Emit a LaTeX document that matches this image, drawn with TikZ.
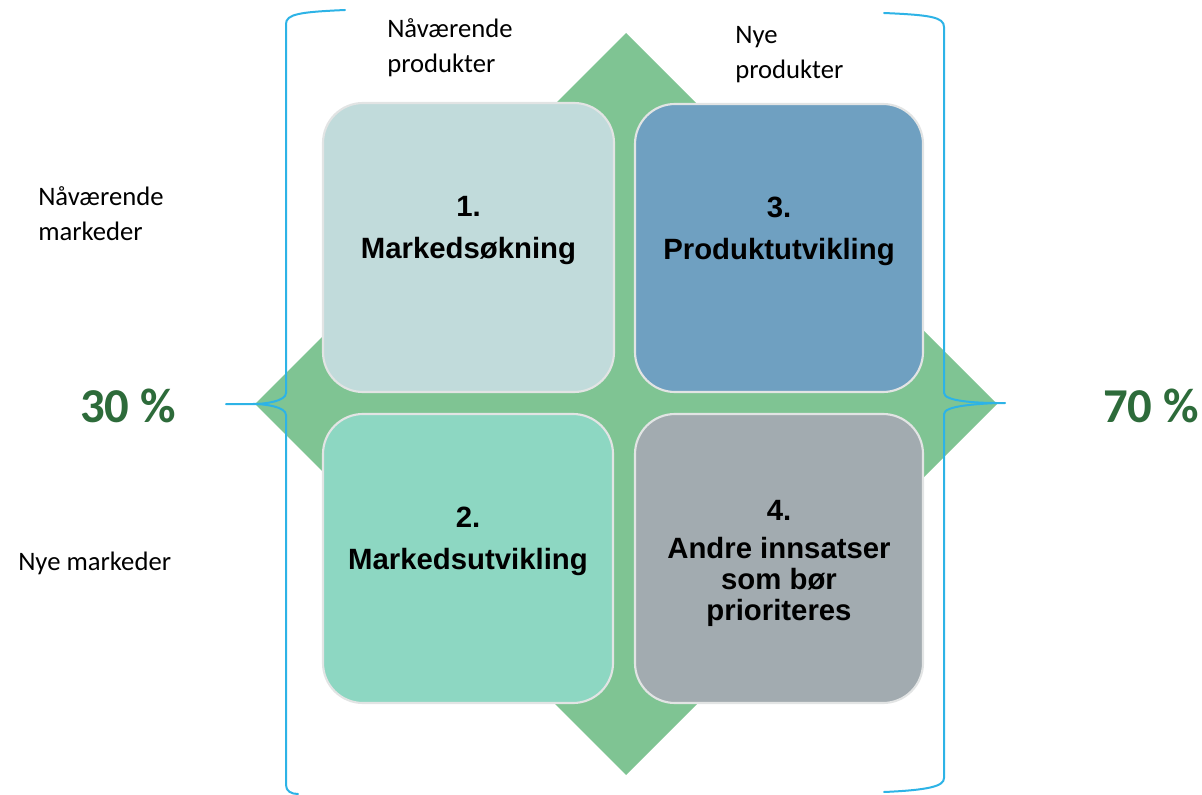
\documentclass[tikz,border=0pt]{standalone}
\usepackage{fontspec}
\setmainfont{Carlito}
\newfontfamily\boxfont{Liberation Sans}
\definecolor{diamondgreen}{HTML}{7FC493}
\definecolor{boxA}{HTML}{C1DBDB}
\definecolor{boxB}{HTML}{8DD7C2}
\definecolor{boxC}{HTML}{6FA0C1}
\definecolor{boxD}{HTML}{A2ABB0}
\definecolor{braceblue}{HTML}{2DB3E6}
\definecolor{pctgreen}{HTML}{2D6B3A}
\definecolor{edgegrey}{HTML}{E2E4E4}
\tikzset{
  quadbox/.style={draw=edgegrey, line width=1.6pt, rounded corners=30pt},
  quadtext/.style={font=\boxfont\bfseries\fontsize{22}{31.5}\selectfont, align=center, text=black, inner sep=0pt},
  sidelabel/.style={font=\fontsize{20}{26.5}\selectfont, align=left, anchor=north west, inner sep=0pt, text=black},
  pct/.style={font=\bfseries\fontsize{36.5}{40}\selectfont, text=pctgreen, inner sep=0pt},
  bracestyle/.style={draw=braceblue, line width=1.5pt}
}
\begin{document}
\begin{tikzpicture}[x=0.75pt,y=-0.75pt]
\useasboundingbox (0,0) rectangle (1202,795);
% diamond
\fill[diamondgreen] (626,33) -- (997,404) -- (626,775) -- (255,404) -- cycle;
% boxes
\draw[quadbox, fill=boxA] (323,103) rectangle (614,392);
\draw[quadbox, fill=boxC] (635,104) rectangle (923,392);
\draw[quadbox, fill=boxB] (323,414) rectangle (613,703);
\draw[quadbox, fill=boxD] (635,414) rectangle (923,703);
% box texts
\node[quadtext] (t1) at (468.5,231) {1.\\Markedsøkning};
\node[quadtext] (t3) at (779,231) {3.\\Produktutvikling};
\node[quadtext] (t2) at (468,541.5) {2.\\Markedsutvikling};
\node[quadtext, font=\boxfont\bfseries\fontsize{22}{23}\selectfont] (t4) at (779,563.5) {4.\\[5.5pt]Andre innsatser\\som bør\\prioriteres};
% braces
\draw[bracestyle, line cap=round] (345,10) .. controls (300,12) and (286,14) .. (286,24) -- (286,393)
  .. controls (286,401) and (266,404) .. (253,404) -- (226,404);
\draw[bracestyle, line cap=round] (253,404) .. controls (266,404) and (286,407) .. (286,415) -- (286,785)
  .. controls (286,791) and (291,794) .. (298,794);
\draw[bracestyle, line cap=round] (884,13) .. controls (930,15) and (944,17) .. (944,27) -- (944,393)
  .. controls (944,401) and (975,403) .. (997,403) -- (1005,403);
\draw[bracestyle, line cap=round] (997,403) .. controls (975,404) and (944,406) .. (944,414) -- (944,778)
  .. controls (944,786) and (930,790) .. (884,792);
% labels
\node[sidelabel] (l1) at (387,18) {Nåværende\\produkter};
\node[sidelabel] (l2) at (735,26) {Nye\\produkter};
\node[sidelabel] (l3) at (38,186) {Nåværende\\markeder};
\node[sidelabel] (l4) at (18,552) {Nye markeder};
\node[pct] (p1) at (128,406) {30 \%};
\node[pct] (p2) at (1151,406) {70 \%};
\end{tikzpicture}
\end{document}
